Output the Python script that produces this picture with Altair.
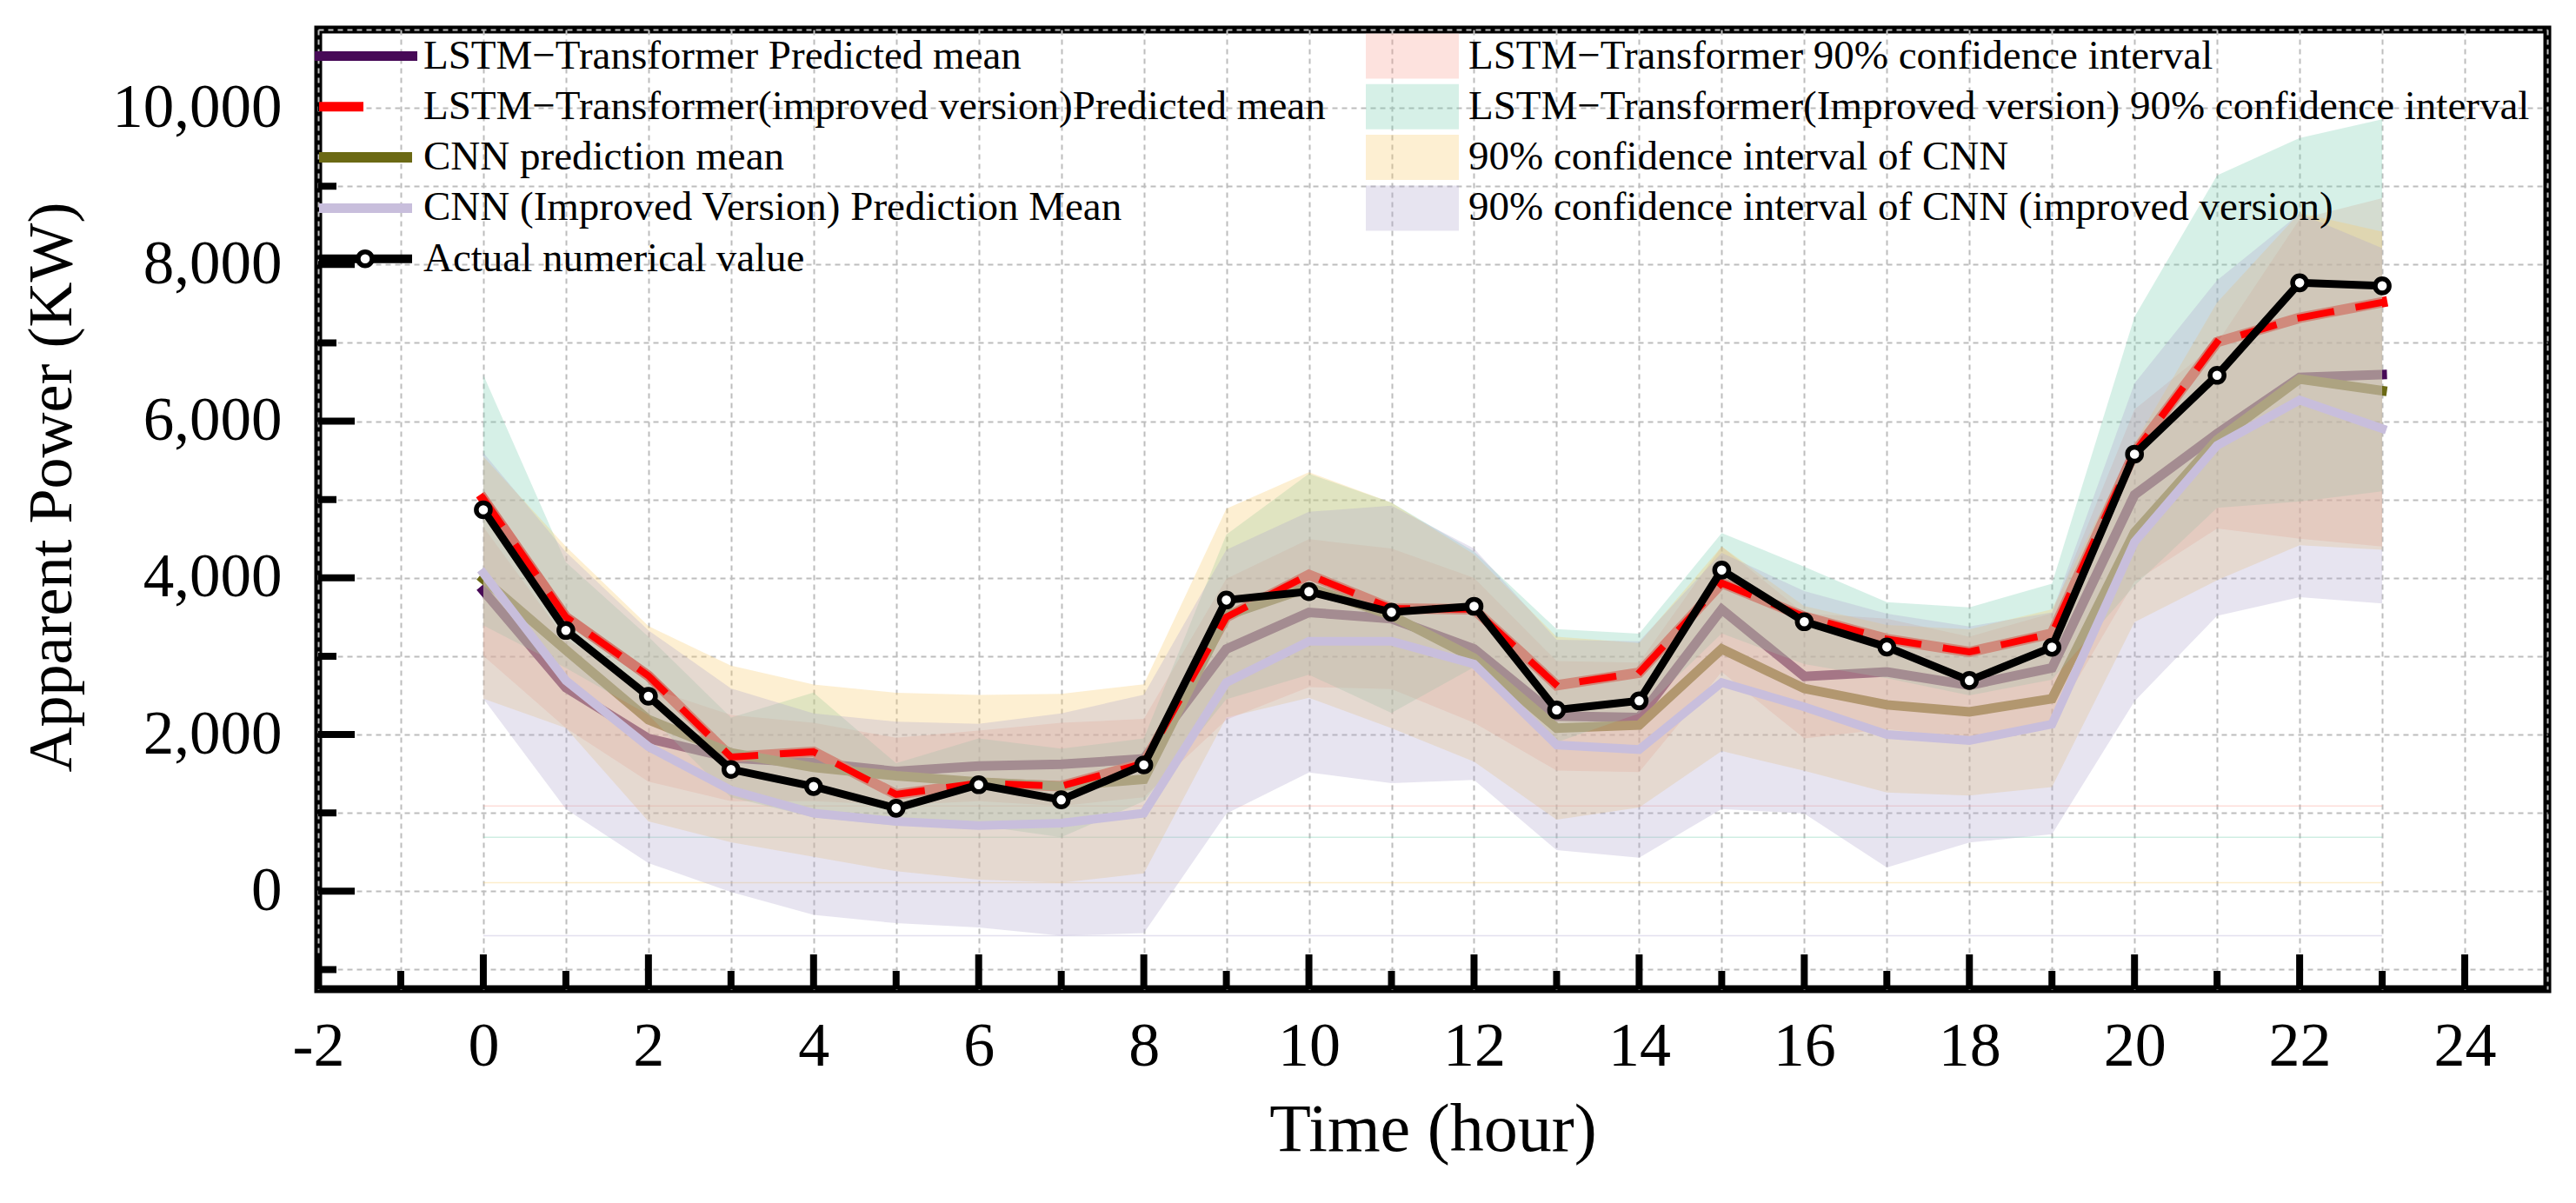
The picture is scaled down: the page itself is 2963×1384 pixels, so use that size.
import altair as alt
import pandas as pd

# ---------------- data ----------------
hours = list(range(24))
actual = [4870, 3330, 2490, 1555, 1337, 1060, 1360, 1167, 1613, 3717, 3825, 3562,
          3638, 2314, 2431, 4100, 3441, 3118, 2690, 3115, 5580, 6586, 7767, 7728]
lt_mean = [3838, 2600, 1950, 1700, 1640, 1530, 1600, 1620, 1690, 3093, 3560, 3480,
           3093, 2237, 2218, 3599, 2743, 2800, 2630, 2850, 5060, 5840, 6560, 6595]
lti_mean = [5010, 3500, 2750, 1714, 1780, 1236, 1380, 1342, 1634, 3500, 4040, 3610,
            3600, 2630, 2790, 3935, 3505, 3220, 3055, 3290, 5600, 7010, 7320, 7518]
cnn_mean = [3986, 3080, 2190, 1767, 1581, 1475, 1395, 1342, 1430, 3521, 3880, 3521,
            2977, 2082, 2121, 3093, 2588, 2380, 2290, 2458, 4580, 5760, 6540, 6390]
cnni_mean = [4060, 2690, 1846, 1289, 997, 891, 838, 870, 997, 2665, 3191, 3191,
             2900, 1868, 1809, 2665, 2354, 2000, 1925, 2132, 4460, 5690, 6270, 5905]

lt_lo = [3006, 2085, 1400, 1150, 1150, 1100, 1150, 1088, 1200, 2190, 2607, 2580,
         2150, 1540, 1520, 2800, 1950, 2070, 1950, 2150, 3950, 4630, 4500, 4400]
lt_hi = [4652, 3215, 2600, 2250, 2150, 1960, 2050, 2150, 2200, 3990, 4494, 4377,
         4000, 2940, 2920, 4400, 3550, 3480, 3250, 3550, 6150, 7000, 8580, 8846]
lti_lo = [3394, 2850, 2250, 1200, 944, 838, 838, 690, 1150, 2450, 2764, 2276,
          2860, 1900, 2270, 3290, 2900, 2720, 2500, 2700, 3900, 4894, 4974, 5106]
lti_hi = [6593, 4200, 3250, 2217, 2536, 1634, 1952, 1820, 1950, 4553, 5330, 4961,
          4338, 3346, 3288, 4572, 4144, 3690, 3625, 3925, 7334, 9138, 9615, 9854]
cnn_lo = [2460, 2085, 891, 626, 440, 255, 149, 110, 228, 2218, 2471, 2082,
          1654, 914, 1070, 1790, 1537, 1260, 1223, 1330, 3435, 3970, 4416, 4360]
cnn_hi = [5550, 4400, 3385, 2880, 2639, 2533, 2507, 2520, 2642, 4883, 5350, 4960,
          4300, 3250, 3170, 4400, 3640, 3400, 3345, 3600, 5717, 7516, 8660, 8420]
cnni_lo = [2460, 1050, 360, -10, -302, -408, -461, -568, -535, 992, 1517, 1381,
           1420, 525, 428, 1051, 992, 304, 622, 728, 2426, 3515, 3753, 3674]
cnni_hi = [5600, 4330, 3330, 2590, 2270, 2164, 2138, 2270, 2509, 4358, 4844, 4922,
           4377, 3210, 3191, 4319, 3833, 3544, 3380, 3560, 6485, 7800, 8650, 8210]

line_names = ["LSTM\u2212Transformer Predicted mean",
              "LSTM\u2212Transformer(improved version)Predicted mean",
              "CNN prediction mean",
              "CNN (Improved Version) Prediction Mean",
              "Actual numerical value"]
band_names = ["LSTM\u2212Transformer 90% confidence interval",
              "LSTM\u2212Transformer(Improved version) 90% confidence interval",
              "90% confidence interval of CNN",
              "90% confidence interval of CNN (improved version)"]

x_major = list(range(-2, 25, 2))
x_minor = list(range(-1, 25, 2))
y_major = list(range(0, 10001, 2000))
y_minor = list(range(-1000, 10001, 2000))
x_grid = list(range(-2, 26))
y_grid = list(range(-1000, 11001, 1000))

# ---------------- styling ----------------
FONT = "Liberation Serif"
W, H = 2564, 1104
C_LT = "#470A57"
C_LTI = "#FF0000"
C_CNN = "#6B6914"
C_CNNI = "#C8BEDC"
BAND_COLORS = ["#F89E91", "#76CDAF", "#F8CA69", "#AFA5CD"]
BAND_OP = 0.3

df = pd.DataFrame({
    "hour": hours, "actual": actual,
    "lt_mean": lt_mean, "lti_mean": lti_mean,
    "cnn_mean": cnn_mean, "cnni_mean": cnni_mean,
    "lt_lo": lt_lo, "lt_hi": lt_hi, "lti_lo": lti_lo, "lti_hi": lti_hi,
    "cnn_lo": cnn_lo, "cnn_hi": cnn_hi, "cnni_lo": cnni_lo, "cnni_hi": cnni_hi,
})

xs = alt.Scale(domain=[-2, 25], nice=False, zero=False)
ys = alt.Scale(domain=[-1250, 11000], nice=False, zero=False)

x_axis = alt.Axis(values=x_grid, grid=True, gridColor="#bdbdbd", gridDash=[6, 5],
                  gridWidth=2, ticks=False, tickSize=0, domain=False,
                  labelExpr="datum.value % 2 == 0 ? '' + datum.value : ''",
                  labelFont=FONT, labelFontSize=72, labelColor="black",
                  labelPadding=30, labelFlush=False, labelOverlap=False, labelLimit=0,
                  title="Time (hour)", titleFont=FONT, titleFontSize=78,
                  titleFontWeight="normal", titleColor="black", titlePadding=22)
y_axis = alt.Axis(values=y_grid, grid=True, gridColor="#bdbdbd", gridDash=[6, 5],
                  gridWidth=2, ticks=False, tickSize=0, domain=False,
                  labelExpr="datum.value % 2000 == 0 ? format(datum.value, ',') : ''",
                  labelFont=FONT, labelFontSize=71, labelColor="black",
                  labelPadding=42, labelFlush=False, labelOverlap=False, labelLimit=0,
                  title="Apparent Power (KW)", titleFont=FONT, titleFontSize=72,
                  titleFontWeight="normal", titleColor="black", titlePadding=70,
                  titleY=526)

base = alt.Chart(df)

def line(field, color, width, **kw):
    return base.mark_line(color=color, strokeWidth=width, strokeCap="square", **kw).encode(
        x=alt.X("hour:Q", scale=xs), y=alt.Y(f"{field}:Q", scale=ys))

# first layer carries the axes
lt_line = base.mark_line(color=C_LT, strokeWidth=11, strokeCap="square").encode(
    x=alt.X("hour:Q", scale=xs, axis=x_axis),
    y=alt.Y("lt_mean:Q", scale=ys, axis=y_axis))
lti_under = line("lti_mean", C_LTI, 12)
cnn_line = line("cnn_mean", C_CNN, 11)

bands = []
for (lo, hi), col in zip([("lt_lo", "lt_hi"), ("lti_lo", "lti_hi"),
                          ("cnn_lo", "cnn_hi"), ("cnni_lo", "cnni_hi")], BAND_COLORS):
    bands.append(base.mark_area(color=col, opacity=BAND_OP).encode(
        x=alt.X("hour:Q", scale=xs), y=alt.Y(f"{lo}:Q", scale=ys), y2=alt.Y2(f"{hi}:Q")))

# faint edge lines at each band's lowest value
edge_layers = []
for lows, col in zip([lt_lo, lti_lo, cnn_lo, cnni_lo], BAND_COLORS):
    edf = pd.DataFrame({"x0": [hours[0]], "x1": [hours[-1]], "y": [min(lows)]})
    edge_layers.append(alt.Chart(edf).mark_rule(color=col, opacity=0.35, strokeWidth=1.5).encode(
        x=alt.X("x0:Q", scale=xs), x2="x1:Q", y=alt.Y("y:Q", scale=ys)))

cnni_line = line("cnni_mean", C_CNNI, 10)
lti_dash = line("lti_mean", C_LTI, 8, strokeDash=[35, 33])
act_line = line("actual", "black", 9)
act_pts = base.mark_point(shape="circle", filled=True, fill="white", stroke="black",
                          strokeWidth=5.5, size=260, opacity=1).encode(
    x=alt.X("hour:Q", scale=xs), y=alt.Y("actual:Q", scale=ys))

# inward ticks
def yticks(vals, length):
    return alt.Chart(pd.DataFrame({"v": vals})).mark_rule(color="black", strokeWidth=8).encode(
        y=alt.Y("v:Q", scale=ys), x=alt.value(0), x2=alt.value(length))

def xticks(vals, length):
    return alt.Chart(pd.DataFrame({"v": vals})).mark_rule(color="black", strokeWidth=8).encode(
        x=alt.X("v:Q", scale=xs), y=alt.value(H), y2=alt.value(H - length))

ticks = [yticks(y_major, 42), yticks(y_minor, 21), xticks(x_major, 40), xticks(x_minor, 21)]

# ---------------- legend ----------------
rows = [30.5, 88.8, 147.1, 205.4, 263.7]
LEG_FS = 47
legend = []
one = pd.DataFrame({"k": [0]})
sym = [(-4, 114, C_LT, 11), (1, 52, C_LTI, 11), (1, 108, C_CNN, 12), (1, 108, C_CNNI, 11), (1, 108, "black", 10)]
for i, (name, (a, b, col, sw)) in enumerate(zip(line_names, sym)):
    legend.append(alt.Chart(one).mark_rule(color=col, strokeWidth=sw).encode(
        x=alt.value(a), x2=alt.value(b), y=alt.value(rows[i])))
    legend.append(alt.Chart(pd.DataFrame({"t": [name]})).mark_text(
        align="left", baseline="middle", font=FONT, fontSize=LEG_FS, color="black").encode(
        x=alt.value(121), y=alt.value(rows[i]), text="t:N"))
legend.append(alt.Chart(one).mark_point(shape="circle", filled=True, fill="white", stroke="black",
                                        strokeWidth=5.5, size=260, opacity=1).encode(
    x=alt.value(54), y=alt.value(rows[4])))
for i, (name, col) in enumerate(zip(band_names, BAND_COLORS)):
    legend.append(alt.Chart(one).mark_rect(color=col, opacity=BAND_OP).encode(
        x=alt.value(1205), x2=alt.value(1312), y=alt.value(rows[i] - 26), y2=alt.value(rows[i] + 26)))
    legend.append(alt.Chart(pd.DataFrame({"t": [name]})).mark_text(
        align="left", baseline="middle", font=FONT, fontSize=LEG_FS, color="black").encode(
        x=alt.value(1323), y=alt.value(rows[i]), text="t:N"))

chart = alt.layer(
    lt_line, lti_under, cnn_line, *edge_layers, *bands,
    cnni_line, lti_dash, act_line, act_pts, *ticks, *legend
).properties(
    width=W, height=H,
    autosize=alt.AutoSizeParams(type="none"),
    padding={"left": 358, "top": 26, "right": 25, "bottom": 230},
    background="white",
).configure_view(stroke="black", strokeWidth=9)

chart.save("out.html", embed_options={"renderer": "svg", "actions": False})
